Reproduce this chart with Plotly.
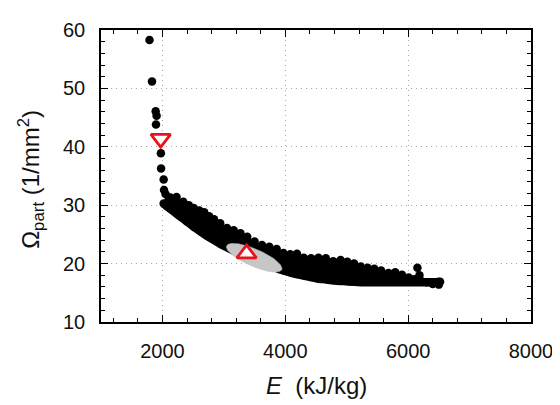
import numpy as np
import plotly.graph_objects as go

# ---- data ----
# isolated points (E in kJ/kg, Omega_part in 1/mm^2)
sparse_E = [1790, 1830, 1890, 1905, 1895, 1975, 1978, 2020, 2026, 6151, 6184]
sparse_O = [58.3, 51.2, 46.1, 45.3, 43.8, 38.9, 36.3, 34.4, 32.6, 19.3, 18.0]

# upper edge of the dense point cloud
upper_E = [2050, 2130, 2230, 2340, 2430, 2510, 2600, 2680, 2760, 2840, 2940, 3050, 3160,
           3270, 3380, 3500, 3620, 3740, 3860, 3970, 4080, 4190, 4300, 4420, 4540, 4660,
           4780, 4900, 5010, 5120, 5230, 5340, 5450, 5560, 5680, 5790, 5900, 6010, 6100,
           6200, 6300, 6400, 6500]
upper_O = [31.9, 31.3, 31.4, 30.6, 30.0, 29.5, 29.1, 28.8, 28.1, 27.6, 26.9, 26.1, 25.7,
           25.2, 24.6, 23.8, 23.2, 22.9, 22.5, 21.8, 21.6, 21.7, 21.0, 20.9, 21.0, 20.9,
           20.4, 20.6, 20.3, 20.0, 19.5, 19.3, 19.1, 18.8, 18.4, 18.5, 18.1, 17.6, 17.3,
           17.1, 16.8, 16.5, 16.4]

# lower edge of the dense point cloud
lower_E = [2020, 2100, 2200, 2300, 2400, 2500, 2610, 2720, 2830, 2940, 3050, 3160, 3270,
           3380, 3500, 3620, 3740, 3860, 3980, 4100, 4230, 4360, 4500, 4650, 4800, 4950,
           5100, 5250, 5400, 5550, 5700, 5850, 6000, 6150, 6300, 6420, 6520]
lower_O = [30.3, 29.6, 28.8, 28.0, 27.2, 26.4, 25.6, 24.8, 24.1, 23.4, 22.8, 22.2, 21.6,
           21.1, 20.6, 20.1, 19.7, 19.2, 18.8, 18.4, 18.1, 17.8, 17.5, 17.3, 17.1, 17.0,
           16.9, 16.8, 16.8, 16.8, 16.8, 16.8, 16.8, 16.8, 16.8, 16.8, 16.9]

# highlighted points
tri_down_E, tri_down_O = [1972], [41.4]
tri_up_E, tri_up_O = [3370], [21.7]

# gray ellipse region: centre and half-axis vectors (data units)
ell_center = (3494, 21.0)
ell_major = (448, -2.05)
ell_minor = (-61, -1.35)

# axis tick labels
x_ticks = [2000, 4000, 6000, 8000]
y_ticks = [10, 20, 30, 40, 50, 60]

FONT = "Arial, Liberation Sans, Helvetica, sans-serif"
DOT = 8.5

fig = go.Figure()

# dense band body
fig.add_trace(go.Scatter(
    x=upper_E + lower_E[::-1], y=upper_O + lower_O[::-1],
    mode="lines", fill="toself", fillcolor="black",
    line=dict(color="black", width=0), hoverinfo="skip", showlegend=False))

# smooth lower edge formed by densely packed points
fig.add_trace(go.Scatter(
    x=lower_E, y=lower_O, mode="lines",
    line=dict(color="black", width=DOT, shape="spline", smoothing=0.6),
    hoverinfo="skip", showlegend=False))

# upper edge, end points and isolated points
fig.add_trace(go.Scatter(
    x=upper_E + [lower_E[0], lower_E[-1]] + sparse_E,
    y=upper_O + [lower_O[0], lower_O[-1]] + sparse_O,
    mode="markers", marker=dict(color="black", size=DOT, line=dict(width=0)),
    showlegend=False))

# gray ellipse
t = np.linspace(0, 2 * np.pi, 120)
ex = ell_center[0] + np.cos(t) * ell_major[0] + np.sin(t) * ell_minor[0]
ey = ell_center[1] + np.cos(t) * ell_major[1] + np.sin(t) * ell_minor[1]
fig.add_trace(go.Scatter(
    x=ex, y=ey, mode="lines", fill="toself", fillcolor="#c6c6c6",
    line=dict(color="#c6c6c6", width=0.5), hoverinfo="skip", showlegend=False))

# red triangles
fig.add_trace(go.Scatter(
    x=tri_down_E, y=tri_down_O, mode="markers",
    marker=dict(symbol="triangle-down", size=17, color="white",
                line=dict(color="#e8141b", width=2.8)),
    showlegend=False))
fig.add_trace(go.Scatter(
    x=tri_up_E, y=tri_up_O, mode="markers",
    marker=dict(symbol="triangle-up", size=17, color="white",
                line=dict(color="#e8141b", width=2.8)),
    showlegend=False))

axis_common = dict(
    showline=True, linecolor="black", linewidth=1.5, mirror="allticks",
    ticks="inside", ticklen=7, tickwidth=1.3, tickcolor="black",
    showgrid=True, gridcolor="#a8a8a8", gridwidth=1, griddash="1px,4px",
    zeroline=False, tickfont=dict(family=FONT, size=20, color="#111"),
)

fig.update_xaxes(
    range=[1000, 8000], tickmode="array", tickvals=x_ticks,
    ticktext=[str(v) for v in x_ticks],
    minor=dict(dtick=400, tick0=0, ticks="inside", ticklen=4, tickcolor="black",
               showgrid=False),
    ticklabelstandoff=10, **axis_common)
fig.update_yaxes(
    range=[10, 60], tickmode="array", tickvals=y_ticks,
    ticktext=[str(v) for v in y_ticks],
    minor=dict(dtick=2, tick0=0, ticks="inside", ticklen=4, tickcolor="black",
               showgrid=False),
    ticklabelstandoff=10, **axis_common)

fig.add_annotation(
    text="Ω<sub>part</sub> (1/mm<sup>2</sup>)", xref="paper", yref="paper",
    x=-0.163, y=0.49, xanchor="center", yanchor="middle", textangle=-90,
    showarrow=False, font=dict(family=FONT, size=24, color="#111"))
fig.add_annotation(
    text="<i>E</i>  (kJ/kg)", xref="paper", yref="paper",
    x=0.5, y=-0.218, xanchor="center", yanchor="middle",
    showarrow=False, font=dict(family=FONT, size=24, color="#111"))

# the page body adds an 8 px offset, compensated in the margins
fig.update_layout(
    width=560, height=405,
    margin=dict(l=93, r=37, t=11, b=91),
    paper_bgcolor="white", plot_bgcolor="white",
    font=dict(family=FONT, color="#111"),
    showlegend=False,
)

fig.write_html("out.html")
